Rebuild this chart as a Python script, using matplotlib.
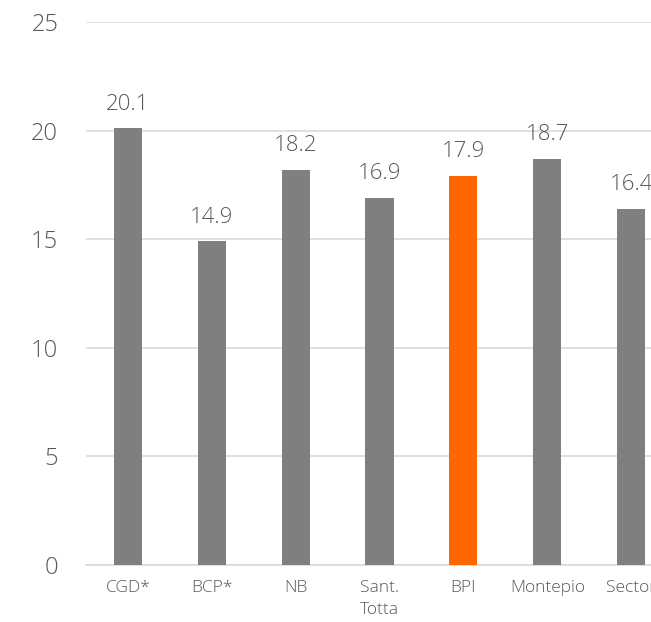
import matplotlib.pyplot as plt
import numpy as np

categories = ['CGD*', 'BCP*', 'NB', 'Sant.\nTotta', 'BPI', 'Montepio', 'Sector']
values = [20.1, 14.9, 18.2, 16.9, 17.9, 18.7, 16.4]
highlight = 'BPI'
y_ticks = [0, 5, 10, 15, 20, 25]

plt.rcParams['font.family'] = ['Open Sans', 'DejaVu Sans']

fig = plt.figure(figsize=(6.51, 6.22), dpi=100)
# axes intentionally extend past the right edge (the original is cropped)
ax = fig.add_axes([0.132, 0.0916, 0.902, 0.873])

x = np.arange(len(categories))
colors = ['#FF6600' if c == highlight else '#7F7F7F' for c in categories]
bars = ax.bar(x, values, width=0.335, color=colors, zorder=3)

for b, v in zip(bars, values):
    ax.annotate(f'{v:.1f}', (b.get_x() + b.get_width() / 2, v),
                xytext=(0, 10), textcoords='offset points',
                ha='center', va='bottom', fontsize=16, color='#595959',
                fontweight='light')

ax.set_xlim(-0.5, len(categories) - 0.5)
ax.set_ylim(0, 25)
ax.set_yticks(y_ticks)
ax.set_yticklabels([str(t) for t in y_ticks], fontsize=17, color='#595959',
                   fontweight='light')
ax.set_xticks(x)
ax.set_xticklabels(categories, fontsize=12.5, color='#595959', fontweight='light',
                   linespacing=1.45)
ax.tick_params(axis='both', length=0)
ax.tick_params(axis='y', pad=20)
ax.tick_params(axis='x', pad=11)

ax.yaxis.grid(True, color='#D9D9D9', linewidth=1.2, zorder=0)
for s in ['top', 'right', 'left']:
    ax.spines[s].set_visible(False)
ax.spines['bottom'].set_color('#D9D9D9')
ax.spines['bottom'].set_linewidth(1.2)

fig.savefig('out.png', dpi=100)
